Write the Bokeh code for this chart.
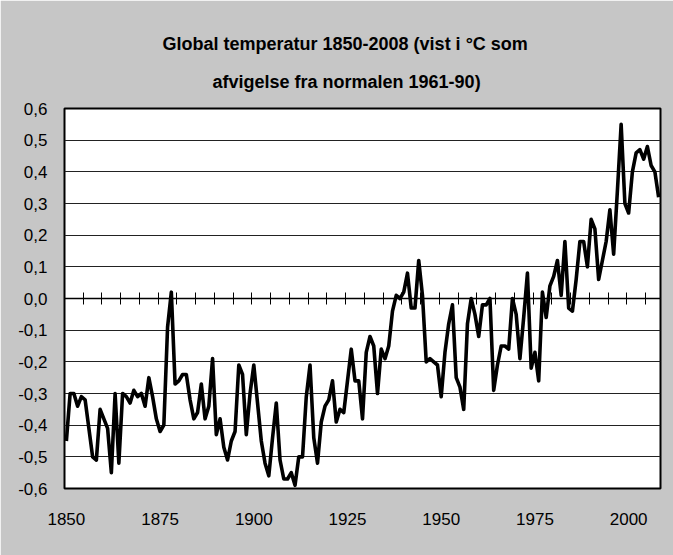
from bokeh.plotting import figure
from bokeh.models import (Range1d, LinearAxis, FixedTicker, CustomJSTickFormatter,
                          Title, ColumnDataSource, Grid)
from bokeh.embed import file_html
from bokeh.resources import INLINE

# ---- data -------------------------------------------------------------
years = list(range(1850, 2009))
anomaly = [
    -0.45, -0.30, -0.30, -0.34, -0.31, -0.32, -0.41, -0.50, -0.51, -0.35,   # 1850-59
    -0.38, -0.41, -0.55, -0.30, -0.52, -0.30, -0.31, -0.33, -0.29, -0.31,   # 1860-69
    -0.30, -0.34, -0.25, -0.31, -0.38, -0.42, -0.40, -0.09, 0.02, -0.27,    # 1870-79
    -0.26, -0.24, -0.24, -0.32, -0.38, -0.36, -0.27, -0.38, -0.34, -0.19,   # 1880-89
    -0.43, -0.38, -0.47, -0.51, -0.45, -0.42, -0.21, -0.24, -0.43, -0.30,   # 1890-99
    -0.21, -0.33, -0.45, -0.52, -0.56, -0.44, -0.33, -0.51, -0.57, -0.57,   # 1900-09
    -0.55, -0.59, -0.50, -0.50, -0.31, -0.21, -0.44, -0.52, -0.39, -0.34,   # 1910-19
    -0.32, -0.26, -0.39, -0.35, -0.36, -0.26, -0.16, -0.26, -0.26, -0.38,   # 1920-29
    -0.17, -0.12, -0.15, -0.30, -0.16, -0.19, -0.15, -0.04, 0.01, 0.00,     # 1930-39
    0.02, 0.08, -0.03, -0.03, 0.12, 0.01, -0.20, -0.19, -0.20, -0.21,       # 1940-49
    -0.31, -0.17, -0.08, -0.02, -0.25, -0.28, -0.35, -0.08, 0.00, -0.05,    # 1950-59
    -0.12, -0.02, -0.02, 0.00, -0.29, -0.21, -0.15, -0.15, -0.16, 0.00,     # 1960-69
    -0.05, -0.19, -0.06, 0.08, -0.22, -0.17, -0.26, 0.02, -0.06, 0.04,      # 1970-79
    0.07, 0.12, 0.01, 0.18, -0.03, -0.04, 0.06, 0.18, 0.18, 0.10,           # 1980-89
    0.25, 0.22, 0.06, 0.12, 0.18, 0.28, 0.14, 0.34, 0.55, 0.30,             # 1990-99
    0.27, 0.40, 0.46, 0.47, 0.44, 0.48, 0.42, 0.40, 0.32,                   # 2000-08
]
y_ticks = [-0.6, -0.5, -0.4, -0.3, -0.2, -0.1, 0.0, 0.1, 0.2, 0.3, 0.4, 0.5, 0.6]
y_tick_labels = ["-0,6", "-0,5", "-0,4", "-0,3", "-0,2", "-0,1", "0,0",
                 "0,1", "0,2", "0,3", "0,4", "0,5", "0,6"]
x_label_years = [1850, 1875, 1900, 1925, 1950, 1975, 2000]
title_lines = ["Global temperatur 1850-2008 (vist i \u00b0C som",
               "afvigelse fra normalen 1961-90)"]

# ticks on the zero line every 5 years, at category boundaries
zero_ticks = [y + 0.5 for y in years if (y - 1854) % 5 == 0 and y < years[-1]]

FONT = "Liberation Sans"
BG = "#c6c6c6"

src = ColumnDataSource(data=dict(year=years, anomaly=anomaly))

p = figure(width=673, height=555, output_backend="svg", toolbar_location=None,
           x_range=Range1d(years[0] - 0.5, years[-1] + 0.5),
           y_range=Range1d(y_ticks[0], y_ticks[-1]),
           x_axis_type=None, y_axis_type=None,
           min_border_left=64, min_border_right=13, min_border_top=108,
           min_border_bottom=67,
           background_fill_color="white", border_fill_color=BG,
           outline_line_color="black", outline_line_width=2)

# horizontal grid lines
grid = Grid(dimension=1, ticker=FixedTicker(ticks=y_ticks),
            grid_line_color="#222222", grid_line_width=1)
p.add_layout(grid)

# y axis with comma decimals
yfmt = CustomJSTickFormatter(args=dict(tvals=y_ticks, tlabels=y_tick_labels), code="""
    for (let i = 0; i < tvals.length; i++) {
        if (Math.abs(tvals[i] - tick) < 1e-9) return tlabels[i];
    }
    return '';
""")
yaxis = LinearAxis(ticker=FixedTicker(ticks=y_ticks), formatter=yfmt,
                   major_tick_line_color=None, minor_tick_line_color=None,
                   axis_line_color=None, major_label_standoff=11,
                   major_label_text_font=FONT, major_label_text_font_size="17px",
                   major_label_text_color="black")
p.add_layout(yaxis, "left")

# x axis labels
xaxis = LinearAxis(ticker=FixedTicker(ticks=x_label_years),
                   major_tick_line_color=None, minor_tick_line_color=None,
                   axis_line_color=None, major_label_standoff=18,
                   major_label_text_font=FONT, major_label_text_font_size="17px",
                   major_label_text_color="black")
p.add_layout(xaxis, "below")

# zero line with tick marks
zaxis = LinearAxis(fixed_location=0, ticker=FixedTicker(ticks=zero_ticks),
                   formatter=CustomJSTickFormatter(code="return ''"),
                   major_tick_in=6, major_tick_out=6,
                   major_tick_line_color="black", major_tick_line_width=1,
                   minor_tick_line_color=None,
                   axis_line_color="black", axis_line_width=1.5)
p.add_layout(zaxis, "below")

# data line
p.line(x="year", y="anomaly", source=src, line_color="black", line_width=3.6,
       line_join="round")

# two-line title (second line added first: it sits closest to the plot)
p.add_layout(Title(text=title_lines[1], align="left", text_font=FONT,
                   text_font_size="18px", text_font_style="bold", offset=148,
                   text_color="black", standoff=33), "above")
p.add_layout(Title(text=title_lines[0], align="left", text_font=FONT,
                   text_font_size="18px", text_font_style="bold", offset=98,
                   text_color="black", standoff=0), "above")

open("out.html", "w").write(file_html(p, INLINE))
